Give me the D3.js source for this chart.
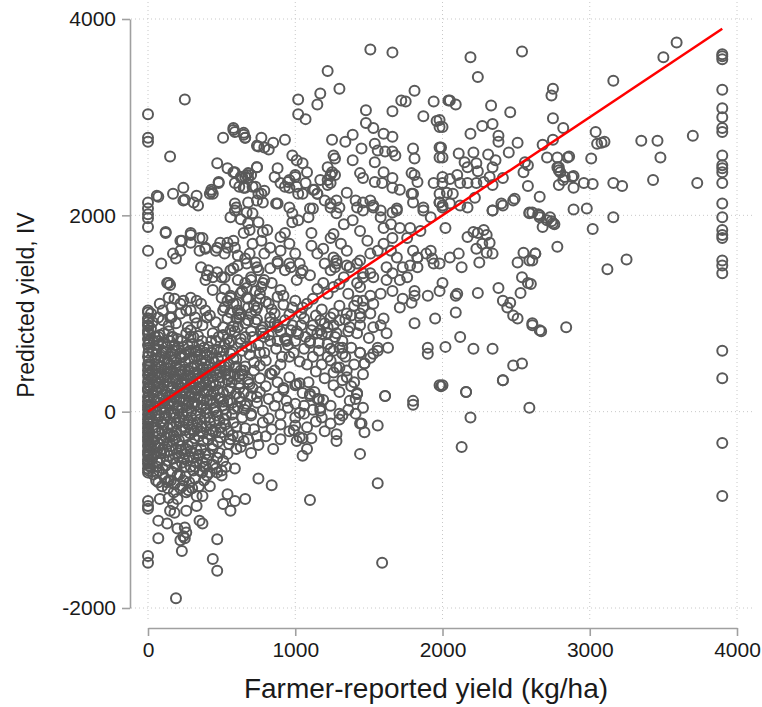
<!DOCTYPE html>
<html>
<head>
<meta charset="utf-8">
<script src="https://cdn.jsdelivr.net/npm/d3@7"></script>
<style>
  body { margin: 0; background: #fff; }
  svg { font-family: Arial, "Liberation Sans", sans-serif; }
  .tick text { fill: #1a1a1a; }
</style>
</head>
<body>
<div id="chart"></div>
<script>
// x ticks / y ticks
const xTicks = [0, 1000, 2000, 3000, 4000];
const yTicks = [-2000, 0, 2000, 4000];

// farms reporting zero yield (x = 0)
const zeroReportY = [3030, 2790, 2750, 2130, 2070, 2010, 1970, 1880, 1640, 1030, 1010, 950, 910, 880, 830, 800,
  740, 680, 560, 480, 420, 370, 300, 240, 210, 150, 100, 60, 20, -30, -80, -120, -170, -210, -260, -300,
  -350, -400, -440, -490, -530, -580, -620, -910, -960, -990, -1470, -1540];

// top-coded reported yield (x = 3900)
const topCodedY = [3640, 3620, 3590, 3280, 3090, 3000, 2890, 2850, 2610, 2510, 2480, 2440, 2330, 2120, 1980,
  1850, 1800, 1770, 1540, 1490, 1410, 620, 340, -320, -860];

// everything else: [reported, predicted]
const scatterPoints = [
  // upper right, sparse
  [3590, 3760], [3500, 3610], [3160, 3370], [2750, 3290], [2740, 3220], [2750, 2990], [2820, 2890], [2750, 2770],
  [3040, 2850], [3050, 2730], [3080, 2740], [3100, 2750], [3350, 2760], [3460, 2760], [3480, 2590], [3700, 2810],
  [3010, 2580], [2780, 2590], [2860, 2600], [2790, 2490], [2790, 2460], [2880, 2390], [2820, 2360], [2790, 2310],
  [2890, 2280], [2960, 2330], [3020, 2320], [3160, 2330], [3220, 2300], [3430, 2360], [3730, 2330], [2890, 2060],
  [2980, 2070], [3160, 1980], [2760, 1910], [2740, 1940], [3020, 1860], [2780, 1680], [3250, 1550], [3120, 1450],
  [2840, 860], [2660, 2190], [2610, 2030], [2660, 2000], [2710, 1950], [2750, 1920], [2630, 1610], [2610, 1540],
  [2600, 1300], [2610, 900], [2670, 820],
  // band 2000-2800
  [2190, 3610], [2540, 3670], [2240, 3410], [2050, 3170], [2090, 3130], [2330, 3120], [2460, 3050], [1980, 2970],
  [2000, 2900], [2270, 2910], [2340, 2930], [2190, 2830], [2380, 2810], [2380, 2750], [2510, 2740], [2680, 2720],
  [1980, 2690], [2000, 2590], [2110, 2630], [2210, 2640], [2310, 2620], [2450, 2640], [2150, 2540], [2170, 2490],
  [2230, 2530], [2240, 2450], [2360, 2560], [2340, 2490], [2560, 2540], [2580, 2510], [2550, 2440], [2710, 2590],
  [2850, 2590], [2780, 2490], [2800, 2440], [2830, 2390], [2890, 2400], [2050, 2370], [2100, 2410], [2120, 2330],
  [2170, 2330], [2230, 2330], [2280, 2340], [2320, 2390], [2340, 2310], [2410, 2380], [2580, 2300], [1980, 2220],
  [2030, 2230], [2070, 2220], [2220, 2180], [2490, 2170], [2400, 2120], [1980, 2130], [2000, 2100], [2050, 2120],
  [2120, 2100], [2170, 2080], [2340, 2050], [2590, 2030], [2650, 2010], [2730, 1980],
  // 1000-2000 top
  [1510, 3690], [1660, 3660], [1220, 3470], [1300, 3290], [1020, 3180], [1170, 3240], [1150, 3130], [1020, 3030],
  [1070, 2980], [1480, 3070], [1480, 2940], [1530, 2890], [1660, 3060], [1720, 3170], [1750, 3160], [1810, 3270],
  [1870, 3010], [1940, 3160], [1960, 2960], [1980, 2900], [2040, 3170], [580, 2890], [590, 2850], [650, 2820],
  [660, 2790], [770, 2790], [750, 2700], [790, 2690], [820, 2670], [850, 2740], [930, 2770], [1250, 2770],
  [1340, 2750], [1390, 2820], [1600, 2830], [1660, 2800], [1540, 2730], [1560, 2660], [1450, 2680], [1390, 2560],
  [1610, 2650], [1660, 2650], [1680, 2610], [1800, 2680], [1810, 2580], [1990, 2690], [1980, 2590], [980, 2610],
  [1010, 2560], [1050, 2530], [1080, 2440], [1000, 2390], [960, 2360], [1260, 2610], [1270, 2580], [1220, 2490],
  [1250, 2440], [1270, 2410], [1220, 2360], [1220, 2310], [880, 2480], [740, 2490], [680, 2430], [660, 2390],
  [590, 2440], [1540, 2540], [1600, 2440], [1660, 2380], [1590, 2330], [1540, 2340], [1440, 2430], [1460, 2380],
  [1790, 2430], [1810, 2410], [1830, 2340], [1940, 2330], [2000, 2390], [2000, 2330], [1800, 2220], [1710, 2260],
  [1660, 2280], [650, 2280], [620, 2290], [710, 2290], [770, 2220], [960, 2280], [1010, 2290], [1050, 2220],
  [1020, 2220], [1120, 2260], [1150, 2220], [1350, 2230], [1410, 2150], [1460, 2130], [1510, 2150], [880, 2120],
  [780, 2130], [740, 2150], [670, 2030], [600, 2080], [960, 2080], [980, 2020], [1100, 2070], [1240, 2120],
  [1280, 2150], [1300, 2080], [1420, 2080], [1530, 2100], [1580, 2050], [1690, 2070], [1660, 2030], [1790, 2220],
  [1800, 2130], [1870, 2080], [1980, 2130], [2000, 2080],
  // top-left
  [250, 3180], [150, 2600], [470, 2530], [540, 2480], [580, 2440], [480, 2340], [430, 2240], [440, 2220],
  [510, 2790], [580, 2870], [650, 2840], [660, 2790], [740, 2710], [670, 2410], [640, 2390], [740, 2490],
  [660, 2280], [70, 2190], [170, 2220], [240, 2280], [240, 2150], [330, 2200], [340, 2100], [120, 1820],
  [230, 1740], [290, 1800], [350, 1770], [390, 1660], [470, 1670], [540, 1670], [580, 1740], [650, 1820],
  [690, 1850], [60, 2200], [250, 2160], [310, 2130], [420, 2220], [480, 2330], [430, 2260],
  [120, 1830], [90, 1510], [220, 1740], [290, 1820], [290, 1720], [370, 1770], [390, 1670], [350, 1640],
  [460, 1640], [490, 1720], [170, 1610], [190, 1560], [220, 1640], [540, 1720], [520, 1610], [590, 1670],
  [610, 1590], [360, 1470], [410, 1440], [440, 1370], [500, 1370], [390, 1340], [140, 1310], [140, 1160],
  [180, 1150], [220, 1100], [290, 1160], [20, 1000], [30, 910], [70, 960], [100, 930], [140, 880], [190, 900],
  [220, 1000], [260, 1030], [560, 1440], [610, 1490], [660, 1560], [690, 1610], [610, 1340], [660, 1310],
  [700, 1370], [750, 1440], [730, 1520], [680, 1920], [630, 1960], [710, 2020], [750, 1930], [780, 1830],
  [810, 1850], [770, 1740], [710, 1710], [830, 1670], [790, 1610], [590, 2050], [560, 1980], [590, 2120],
  [680, 2130], [590, 2330], [630, 2390], [680, 2380], [700, 2410], [730, 2290], [750, 2220], [790, 2250],
  [870, 2120], [900, 1780], [930, 1820], [960, 1710], [1000, 1610], [900, 1640], [880, 1510], [930, 1440],
  [970, 1470], [1030, 1510], [1040, 1410], [980, 1930], [1020, 1950], [1090, 1980], [1110, 1820], [1120, 2070],
  [1150, 2220], [1200, 2150], [1240, 2080], [1110, 1690], [1150, 1610], [1190, 1660], [1240, 1770], [1260, 1570],
  [1200, 1510], [1270, 1470], [950, 2340], [1000, 2410], [1070, 2330], [1130, 2260], [1170, 2360], [1240, 2330],
  [1240, 2410], [860, 2390], [900, 2330], [930, 2290], [700, 1340], [770, 1270], [790, 1340], [730, 1230],
  [840, 1310], [500, 1160], [540, 1130], [520, 1060], [580, 1100], [610, 1030], [630, 1210], [670, 1160],
  [680, 1060], [630, 1000], [730, 1030], [360, 1100], [390, 1030], [420, 980], [320, 960], [330, 900], [270, 860],
  [370, 880], [80, 1100], [100, 1030], [160, 1060], [160, 960], [460, 910], [510, 860], [560, 830], [610, 860],
  [680, 930], [730, 910], [770, 830], [830, 910], [880, 860], [930, 930], [970, 830], [1040, 880], [1110, 830],
  [1170, 930], [1170, 830], [1220, 860], [1270, 760], [1070, 760], [930, 740], [790, 760], [660, 760], [480, 760],
  [290, 760], [160, 760], [70, 760],
  // 1200-2000 mid
  [2020, 1870], [2170, 1780], [2210, 1830], [2240, 1820], [2280, 1850], [2300, 1800], [2320, 1720], [2270, 1710],
  [2230, 1660], [2300, 1620], [2340, 1610], [2250, 1520], [2340, 2050], [2410, 2100], [2480, 2150], [2590, 2020],
  [2660, 1980], [2680, 1880], [2550, 1620], [2630, 1610], [2590, 1540], [2510, 1520], [2540, 1370], [2580, 1310],
  [2530, 1210], [2380, 1260], [2410, 1130], [2460, 1110], [2440, 1060], [2480, 980], [2510, 950], [2610, 880],
  [2660, 830], [2240, 1210], [2100, 1200], [2090, 1010], [2120, 760], [2020, 660], [2210, 640], [2340, 640],
  [2480, 470], [2540, 490], [2410, 320], [2160, 200], [2000, 270], [1900, 650], [1900, 590], [1950, 950],
  [1810, 900], [2000, 1310], [1980, 1230], [2090, 1180], [1900, 1180], [1810, 1180], [1890, 1610], [1930, 1560],
  [1940, 1510], [1980, 1510], [2050, 1570], [2110, 1610], [2130, 1470], [1830, 1570], [1830, 1470], [1780, 1490],
  [1710, 1340], [1760, 1370], [1810, 1230], [1730, 1150], [1790, 1110], [1710, 1060], [1620, 1340], [1660, 1230],
  [1580, 1200], [1510, 1180], [1530, 1100], [1460, 1060], [1440, 1000], [1600, 950], [1580, 880], [1620, 800],
  [1630, 650], [1560, 650], [1530, 590], [1470, 490], [1440, 600], [1420, 800], [1370, 860], [1320, 650],
  [1300, 450], [1260, 620], [1280, 800], [1260, 1000], [1350, 1000], [1420, 190], [1610, 160], [1800, 110],
  [1980, 270],
  [1280, 2020], [1330, 1910], [1260, 1810], [1310, 1710], [1350, 1640], [1280, 1540], [1370, 1470], [1330, 1370],
  [1260, 1270], [1420, 1310], [1460, 1410], [1440, 1540], [1510, 1610], [1490, 1740], [1440, 1840], [1390, 1950],
  [1460, 2050], [1530, 2080], [1580, 1980], [1600, 1870], [1650, 1910], [1690, 2050], [1710, 1870], [1660, 1770],
  [1600, 1710], [1560, 1640], [1650, 1640], [1760, 1770], [1780, 1870], [1870, 2050], [1920, 1980], [1850, 1840],
  [1800, 1640], [1690, 1570], [1620, 1470], [1530, 1370], [1660, 1410], [1730, 1470], [1830, 1570], [1920, 1640],
  // bottom-middle
  [1030, 290], [1100, 160], [1160, 130], [1170, 10], [1030, -10], [1050, -270], [1110, -270], [1080, -380],
  [1050, -450], [1280, -230], [1280, -300], [1320, -40], [1410, -20], [1410, 130], [1420, 180], [1450, -120],
  [1470, -210], [1560, -140], [1610, 160], [1440, -430], [1560, -730], [1100, -900], [1590, -1540], [1800, 70],
  [1990, 260], [2160, 200], [2190, -60], [2130, -360], [2590, 40], [2410, 320], [990, -190], [1030, -260],
  // middle-left cluster
  [400, 1390], [470, 1420], [520, 1370], [580, 1460], [670, 1510], [740, 1470], [830, 1460], [880, 1530],
  [960, 1510], [1050, 1440], [1100, 1390], [1190, 1310], [1240, 1440], [1280, 1510], [1350, 1490], [1420, 1510],
  [1460, 1370], [1510, 1410], [1440, 1270], [1460, 1130], [1510, 1000], [1440, 960], [1530, 860], [1560, 620],
  [1510, 550], [1470, 490], [1440, 600], [740, 1060], [830, 960], [880, 880], [780, 800], [880, 720], [940, 720],
  [1010, 820], [1100, 720], [1150, 800], [1220, 690], [1300, 650], [1240, 520], [1280, 450], [1320, 590],
  [1350, 350], [1420, 180], [1370, 110], [1460, 40], [1440, -120], [1300, -20], [1150, 130], [1170, 40],
  [1100, 180], [1010, 280], [920, 240], [830, 390], [760, 470], [690, 280], [630, 420], [560, 590], [130, 1310],
  [150, 1290], [70, 720], [290, 1030], [330, 1130], [240, 1130], [150, 960], [440, 1240], [560, 1160],
  [670, 1260], [780, 1310], [900, 1240], [1010, 1340], [620, 960], [510, 1030], [400, 960], [290, 830],
  [170, 760], [440, 800], [560, 720], [330, 620], [220, 550], [100, 620],
  // lower-left, sparse
  [590, -580], [750, -680], [840, -750], [540, -840], [510, -940], [560, -1010], [590, -910], [660, -890],
  [330, -860], [370, -860], [330, -960], [80, -890], [140, -880], [170, -940], [200, -890], [150, -1010],
  [180, -1030], [70, -1110], [130, -1140], [200, -1190], [250, -1180], [260, -1230], [240, -1270], [250, -1290],
  [220, -1310], [230, -1420], [70, -1290], [350, -1110], [370, -1140], [260, -1010], [470, -1300], [440, -1500],
  [470, -1620], [190, -1900], [60, -620], [100, -580], [130, -720], [70, -720], [400, -650], [470, -620],
  [500, -600],
  // mid band 500-1400
  [520, 1250], [560, 1180], [600, 1100], [640, 1230], [680, 1150], [720, 1080], [760, 1200], [800, 1120],
  [840, 1040], [880, 1170], [920, 1090], [960, 990], [1000, 1130], [540, 950], [580, 870], [620, 990],
  [660, 900], [700, 820], [740, 940], [780, 860], [820, 780], [860, 900], [900, 820], [940, 740], [980, 880],
  [1020, 790], [510, 780], [550, 700], [590, 820], [630, 740], [670, 660], [710, 760], [750, 680], [790, 600],
  [830, 720], [870, 640], [910, 560], [950, 680], [990, 600], [1030, 510], [520, 420], [560, 360], [600, 460],
  [640, 380], [680, 300], [720, 420], [760, 340], [800, 260], [840, 380], [880, 300], [920, 220], [960, 350],
  [1000, 270], [1050, 190], [540, 100], [580, 30], [620, 150], [660, 60], [700, -20], [740, 90], [780, 10],
  [820, -70], [860, 60], [900, -30], [950, 40], [1000, -60], [1060, -20], [560, -280], [600, -380], [650, -300],
  [700, -420], [750, -340], [800, -250], [850, -380], [900, -280], [960, -200], [1010, -300], [1060, 950],
  [1120, 880], [1180, 790], [1100, 700], [1160, 620], [1220, 560], [1080, 480], [1140, 410], [1200, 340],
  [1260, 270], [1090, 300], [1130, 200], [1190, 120], [1240, 60], [1300, 200], [1350, 420], [1400, 300],
  [1320, 720], [1380, 650], [1260, 880], [1340, 940], [1400, 1080], [1180, 1040], [1050, 1060], [1120, 1150],
  [560, 1010], [600, 950], [700, 1000], [760, 1150], [820, 1100], [860, 1000], [920, 1180], [980, 1060],
  [1040, 1000], [1080, 1100], [1140, 980], [1200, 900], [1240, 960], [1300, 1080], [1150, 1250], [1220, 1200],
  [1300, 1300], [1360, 1200], [1420, 1130], [1380, 980], [1440, 880], [1500, 750], [1360, 820], [1300, 930],
  [1220, 800], [1160, 700], [1240, 640], [1340, 560], [1400, 480], [1460, 380], [1380, 260], [1320, 320],
  [1260, 400], [1180, 480], [1120, 560], [1060, 640], [1000, 720], [960, 560], [900, 480], [860, 420],
  [800, 520], [760, 600], [700, 660], [640, 620], [580, 540], [620, 240], [700, 160], [760, 200], [820, 130],
  [880, 150], [940, 110], [1000, 80], [1060, 60], [1120, 20], [1180, -60], [1240, -120], [1300, -80],
  [1360, 20], [900, -130], [840, -180], [780, -110], [720, -180], [660, -170], [610, -250], [680, -280],
  [740, -250], [1000, -140], [1080, -160], [1140, -100], [1200, -200],
  // dense core
  [20, 850], [40, 720], [60, 640], [80, 780], [100, 700], [120, 610], [140, 820], [160, 560], [180, 680],
  [200, 740], [220, 590], [240, 660], [260, 800], [280, 540], [300, 690], [320, 610], [340, 770], [360, 520],
  [380, 650], [400, 580], [430, 720], [450, 500], [470, 630], [500, 560], [520, 690], [550, 480], [570, 610],
  [600, 540], [630, 700], [660, 460], [690, 580], [720, 500], [10, 480], [30, 420], [50, 530], [70, 390],
  [90, 460], [110, 350], [130, 500], [150, 410], [170, 330], [190, 450], [210, 380], [230, 300], [250, 430],
  [270, 360], [290, 280], [310, 400], [330, 330], [350, 250], [370, 380], [390, 300], [410, 220], [440, 350],
  [460, 270], [490, 410], [510, 200], [540, 320], [560, 240], [590, 380], [620, 290], [650, 190], [680, 330],
  [710, 240], [740, 150], [15, 260], [35, 190], [55, 300], [75, 150], [95, 230], [115, 110], [135, 260],
  [155, 170], [175, 80], [195, 210], [215, 130], [235, 40], [255, 180], [275, 100], [295, 10], [315, 150],
  [335, 70], [355, -20], [375, 120], [395, 30], [420, -60], [445, 90], [465, 0], [485, -90], [505, 60],
  [530, -30], [555, 120], [580, -110], [610, 40], [640, -60], [670, 80], [700, -40], [25, -20], [45, 40],
  [65, -80], [85, 20], [105, -130], [125, -40], [145, 60], [165, -160], [185, -60], [205, 10], [225, -190],
  [245, -90], [265, -10], [285, -220], [305, -120], [325, -40], [345, -250], [365, -150], [385, -70],
  [405, -280], [425, -180], [450, -100], [475, -310], [500, -210], [525, -130], [550, -330], [575, -240],
  [600, -160], [630, -360], [5, -250], [30, -310], [50, -200], [70, -370], [90, -270], [110, -420], [130, -330],
  [150, -230], [170, -480], [190, -380], [210, -290], [230, -520], [250, -430], [270, -340], [290, -560],
  [310, -470], [330, -390], [350, -600], [370, -510], [390, -430], [420, -620], [440, -540], [470, -470],
  [500, -650], [530, -560], [40, -440], [60, -560], [80, -490], [100, -640], [120, -550], [140, -700],
  [160, -610], [180, -740], [200, -650], [220, -780], [240, -700], [260, -820], [280, -720], [300, -780],
  [55, 580], [75, 510], [95, 600], [115, 540], [135, 440], [155, 590], [175, 520], [195, 620], [215, 470],
  [235, 560], [255, 500], [275, 610], [295, 450], [315, 540], [335, 470], [355, 580], [375, 440], [395, 520],
  [415, 460], [435, 600], [455, 420], [475, 540], [495, 470], [45, 370], [65, 290], [85, 350], [105, 270],
  [125, 380], [145, 310], [165, 240], [185, 350], [205, 280], [225, 410], [245, 330], [265, 240], [285, 370],
  [305, 300], [325, 220], [345, 340], [365, 260], [385, 400], [405, 330], [425, 260], [445, 200], [465, 370],
  [485, 300], [40, 130], [60, 210], [80, 90], [100, 170], [120, 40], [140, 160], [160, 110], [180, 190],
  [200, 60], [220, 240], [240, 120], [260, 60], [280, 160], [300, 80], [320, 220], [340, 150], [360, 40],
  [380, 190], [400, 110], [430, 170], [455, 40], [480, 140], [510, 100], [35, -100], [55, -160], [75, -40],
  [95, -200], [115, -70], [135, -170], [155, -10], [175, -240], [195, -120], [215, -60], [235, -150],
  [255, -260], [275, -90], [295, -180], [315, -270], [335, -110], [355, -200], [375, -300], [395, -150],
  [415, -230], [440, -340], [460, -210], [490, -260], [20, -360], [40, -290], [60, -420], [80, -330],
  [100, -380], [120, -260], [140, -450], [160, -350], [180, -280], [200, -420], [220, -350], [240, -480],
  [260, -380], [280, -460], [300, -330], [320, -560], [340, -450], [360, -380], [380, -560], [400, -490],
  [8, 700], [28, 610], [48, 760], [68, 680], [88, 560], [108, 800], [128, 660], [148, 720], [168, 620],
  [188, 540], [208, 660], [228, 720], [248, 580], [268, 680], [288, 620], [308, 760], [328, 560], [348, 680],
  [368, 720], [388, 600], [412, 660], [438, 540], [462, 720], [488, 610], [512, 620], [538, 740],
  [12, 400], [32, 340], [52, 450], [72, 470], [92, 400], [112, 440], [132, 350], [152, 480], [172, 410],
  [192, 320], [212, 430], [232, 370], [252, 290], [272, 420], [292, 340], [312, 460], [332, 400], [352, 300],
  [372, 450], [392, 370], [418, 400], [442, 300], [468, 440], [492, 350], [518, 460], [542, 380], [568, 300],
  [592, 450], [618, 360], [648, 420], [18, 60], [38, 260], [58, 100], [78, 240], [98, 40], [118, 200],
  [138, 90], [158, 240], [178, 140], [198, 30], [218, 190], [238, 210], [258, 110], [278, 40], [298, 200],
  [318, 90], [338, 230], [358, 130], [378, 60], [398, 200], [422, 120], [448, 20], [472, 220], [498, 130],
  [522, 30], [548, 210], [572, 90], [598, 180], [628, 100], [655, 20], [12, -60], [32, -170], [52, -40],
  [72, -220], [92, -100], [112, -10], [132, -230], [152, -120], [172, -20], [192, -200], [212, -110],
  [232, -20], [252, -190], [272, -130], [292, -60], [312, -200], [332, -170], [352, -80], [372, -220],
  [392, -10], [418, -110], [442, -200], [468, -40], [495, -160], [520, -80], [545, -200], [570, -30],
  [8, -420], [28, -480], [48, -350], [68, -520], [88, -420], [108, -300], [128, -500], [148, -400],
  [168, -300], [188, -530], [208, -460], [228, -390], [248, -560], [268, -500], [288, -400], [308, -600],
  [328, -520], [348, -440], [368, -620], [392, -560], [415, -440], [438, -380], [462, -580], [485, -420],
  [510, -500], [540, -430], [15, -560], [35, -640], [55, -700], [75, -600], [95, -760], [115, -680],
  [135, -780], [155, -700], [175, -820], [195, -560], [215, -640], [235, -760], [255, -660], [275, -800],
  [320, -680], [345, -760], [380, -700], [420, -760],
  [3, 950], [3, 870], [3, 790], [5, 720], [5, 650], [3, 600], [5, 520], [3, 450], [5, 380], [3, 330],
  [5, 270], [3, 230], [5, 170], [3, 120], [5, 70], [3, 40], [5, -10], [3, -60], [5, -100], [3, -150],
  [5, -190], [3, -230], [5, -280], [3, -330], [5, -370], [3, -420], [5, -460], [3, -510], [5, -550], [3, -600]
];

// fitted 45-degree line
const fitLine = [[0, 0], [3900, 3900]];

const width = 762;
const height = 707;

const svg = d3.select('#chart')
  .append('svg')
  .attr('width', width)
  .attr('height', height);

const xScale = d3.scaleLinear().domain([0, 4000]).range([148, 737]);
const yScale = d3.scaleLinear().domain([-2000, 4000]).range([608, 19]);

// dotted gridlines
const grid = svg.append('g').attr('class', 'grid')
  .attr('stroke', '#c8c8c8')
  .attr('stroke-width', 1)
  .attr('stroke-dasharray', '1,3');

grid.selectAll('line.gx')
  .data(xTicks)
  .join('line')
  .attr('class', 'gx')
  .attr('x1', (d) => xScale(d))
  .attr('x2', (d) => xScale(d))
  .attr('y1', 2)
  .attr('y2', 620);

grid.selectAll('line.gy')
  .data(yTicks)
  .join('line')
  .attr('class', 'gy')
  .attr('x1', 131)
  .attr('x2', 754)
  .attr('y1', (d) => yScale(d))
  .attr('y2', (d) => yScale(d));

// axes, plain integer labels with hyphen minus
const fmt = (d) => String(d);
const xAxis = d3.axisBottom(xScale).tickValues(xTicks).tickFormat(fmt).tickSize(8).tickSizeOuter(0).tickPadding(6);
const yAxis = d3.axisLeft(yScale).tickValues(yTicks).tickFormat(fmt).tickSize(8).tickSizeOuter(0).tickPadding(6);

const gx = svg.append('g')
  .attr('transform', 'translate(0, 628)')
  .call(xAxis);

const gy = svg.append('g')
  .attr('transform', 'translate(130, 0)')
  .call(yAxis);

[gx, gy].forEach((g) => {
  g.select('.domain').attr('stroke', '#a0a0a0').attr('stroke-width', 1.6);
  g.selectAll('.tick line').attr('stroke', '#a0a0a0').attr('stroke-width', 1.6);
  g.selectAll('.tick text').style('font-size', '21px').style('font-family', 'Arial, "Liberation Sans", sans-serif');
});

// combine points
const allPoints = [
  ...zeroReportY.map((y) => [0, y]),
  ...topCodedY.map((y) => [3900, y]),
  ...scatterPoints,
];

svg.append('g')
  .attr('class', 'dots')
  .selectAll('circle')
  .data(allPoints)
  .join('circle')
  .attr('cx', (d) => xScale(d[0]))
  .attr('cy', (d) => yScale(d[1]))
  .attr('r', 5)
  .attr('fill', 'none')
  .attr('stroke', '#595959')
  .attr('stroke-width', 2);

// red line
svg.append('path')
  .datum(fitLine)
  .attr('fill', 'none')
  .attr('stroke', '#ff0000')
  .attr('stroke-width', 2.5)
  .attr('d', d3.line().x((d) => xScale(d[0])).y((d) => yScale(d[1])));

// titles
svg.append('text')
  .attr('x', 426)
  .attr('y', 698)
  .attr('text-anchor', 'middle')
  .style('font-size', '28px')
  .style('fill', '#1a1a1a')
  .text('Farmer-reported yield (kg/ha)');

svg.append('text')
  .attr('transform', 'translate(34, 305) rotate(-90)')
  .attr('text-anchor', 'middle')
  .style('font-size', '23px')
  .style('fill', '#1a1a1a')
  .text('Predicted yield, IV');
</script>
</body>
</html>
